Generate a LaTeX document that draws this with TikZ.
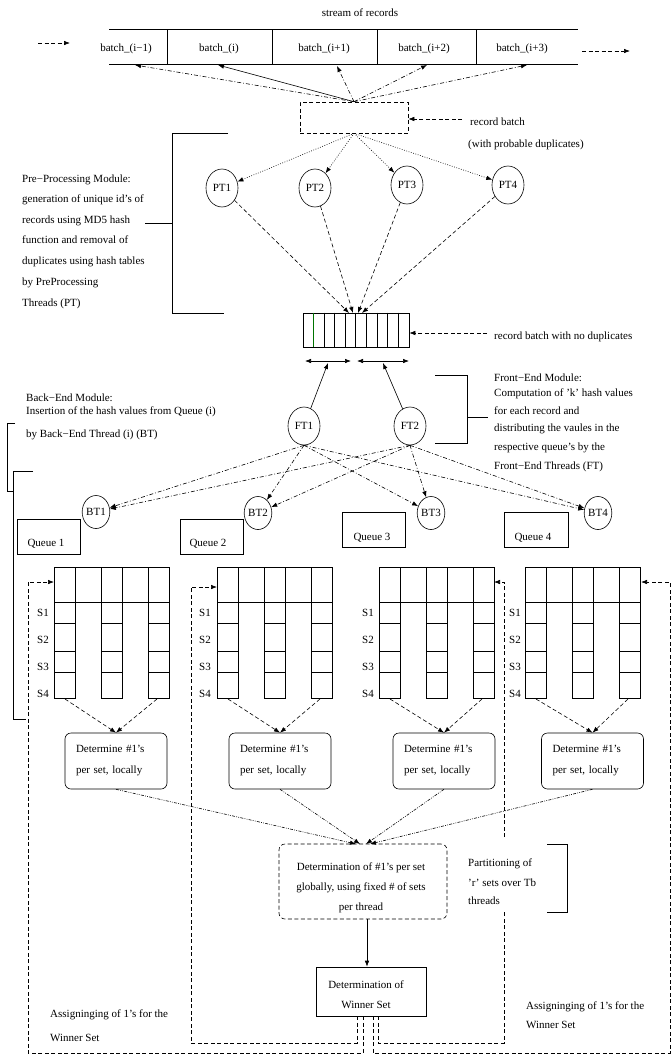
\documentclass[tikz,border=0pt]{standalone}
\usepackage{fontspec}
\setmainfont{Liberation Serif}
\usetikzlibrary{arrows.meta,shapes.geometric,calc}
\begin{document}
\begin{tikzpicture}[x=1pt,y=-1pt,
  every node/.style={font=\fontsize{11}{13}\selectfont, inner sep=0pt},
  ln/.style={line width=0.6pt},
  tip/.style={-{Latex[length=6pt,width=4.5pt]}},
  dtip/.style={{Latex[length=6pt,width=4.5pt]}-{Latex[length=6pt,width=4.5pt]}},
  dsh/.style={dash pattern=on 4pt off 2.5pt},
  dts/.style={dash pattern=on 0.8pt off 1.6pt},
  dda/.style={dash pattern=on 4pt off 2pt on 0.8pt off 2pt},
  ddd/.style={dash pattern=on 3pt off 1.3pt on 0.8pt off 1.3pt on 0.8pt off 1.3pt},
  txt/.style={anchor=base west},
  ctxt/.style={anchor=base},
  thr/.style={ellipse, draw, line width=0.6pt, inner sep=0pt},
  rbox/.style={draw, rounded corners=6pt, line width=0.6pt},
  sq/.style={draw, line width=0.6pt},
]
\useasboundingbox (0,0) rectangle (671,1061);

% ---------- stream of records ----------
\node[ctxt] (title) at (360,16) {stream of records};
\draw[ln] (109,29) -- (578,29) (109,64) -- (578,64);
\foreach \x in {167,272,377,476} \draw[ln] (\x,29) -- (\x,64);
\node[ctxt] (b0) at (126,51) {batch\_(i−1)};
\node[ctxt] (b1) at (219,51) {batch\_(i)};
\node[ctxt] (b2) at (324,51) {batch\_(i+1)};
\node[ctxt] (b3) at (424,51) {batch\_(i+2)};
\node[ctxt] (b4) at (522,51) {batch\_(i+3)};
\coordinate (inL) at (38,43); \coordinate (inR) at (70,43);
\coordinate (outL) at (582,51); \coordinate (outR) at (630,51);
\draw[ln,dsh,tip] (inL) -- (inR);
\draw[ln,dsh,tip] (outL) -- (outR);

% ---------- record batch ----------
\node[sq, dsh, minimum width=108pt, minimum height=31pt] (rb) at (354,117.5) {};
\coordinate (s0) at (135,65); \coordinate (s1) at (218,65);
\coordinate (s2) at (337,66); \coordinate (s3) at (427,65);
\coordinate (s4) at (527,65);
\draw[ln,dda,tip] (rb.north) -- (s0);
\draw[ln,tip] (rb.north) -- (s1);
\draw[ln,dda,tip] (rb.north) -- (s2);
\draw[ln,dda,tip] (rb.north) -- (s3);
\draw[ln,dda,tip] (rb.north) -- (s4);
\node[txt] (rbl) at (470,125) {record batch};
\node[txt] (rbl2) at (468,147) {(with probable duplicates)};
\coordinate (rbs) at (462,119);
\draw[ln,dsh,tip] (rbs) -- (rb.east |- rbs);

% ---------- pre-processing ----------
\node[thr, minimum width=32pt, minimum height=38pt] (PT1) at (222,188) {PT1};
\node[thr, minimum width=32pt, minimum height=38pt] (PT2) at (315,188) {PT2};
\node[thr, minimum width=32pt, minimum height=38pt] (PT3) at (407,185) {PT3};
\node[thr, minimum width=32pt, minimum height=38pt] (PT4) at (508,185) {PT4};
\foreach \i in {1,...,4} \draw[ln,dts,tip] (rb.south) -- (PT\i);

\draw[ln] (228,133) -- (172,133) -- (172,313) -- (224,313);
\draw[ln] (145,223) -- (172,223);
\node[txt] (pp1) at (22,182) {Pre−Processing Module:};
\node[txt] (pp2) at (22,202) {generation of unique id’s of};
\node[txt] (pp3) at (22,223) {records using MD5 hash};
\node[txt] (pp4) at (22,243) {function and removal of};
\node[txt] (pp5) at (22,264) {duplicates using hash tables};
\node[txt] (pp6) at (22,285) {by PreProcessing};
\node[txt] (pp7) at (22,306) {Threads (PT)};

% ---------- record batch with no duplicates ----------
\node[sq, minimum width=106pt, minimum height=34pt] (nd) at (356,330) {};
\foreach \k in {2,...,9}
  \draw[ln] ($(nd.north west)+(\k*10.6,0)$) -- ($(nd.south west)+(\k*10.6,0)$);
\draw[ln, green!45!black] ($(nd.north west)+(10.6,0)$) -- ($(nd.south west)+(10.6,0)$);
\coordinate (nd1) at (349,313); \coordinate (nd2) at (353,313);
\coordinate (nd3) at (358,313); \coordinate (nd4) at (362,313);
\foreach \i in {1,...,4} \draw[ln,dsh,tip] (PT\i) -- (nd\i);
\node[txt] (ndl) at (494,339) {record batch with no duplicates};
\coordinate (nds) at (487,333);
\draw[ln,dsh,tip] (nds) -- (nd.east |- nds);

\coordinate (da1) at (305,361); \coordinate (da2) at (351,361);
\coordinate (da3) at (357,361); \coordinate (da4) at (409,361);
\draw[ln,dtip] (da1) -- (da2);
\draw[ln,dtip] (da3) -- (da4);
\coordinate (m1) at (328,363); \coordinate (m2) at (383,363);

% ---------- front end ----------
\node[thr, minimum width=32pt, minimum height=38pt] (FT1) at (304,426) {FT1};
\node[thr, minimum width=32pt, minimum height=38pt] (FT2) at (410,426) {FT2};
\draw[ln,tip] (FT1) -- (m1);
\draw[ln,tip] (FT2) -- (m2);
\draw[ln] (435,375) -- (467,375) -- (467,443) -- (435,443);
\draw[ln] (467,417) -- (488,417);
\node[txt] (fe1) at (494,381) {Front−End Module:};
\node[txt] (fe2) at (494,396) {Computation of ’k’ hash values};
\node[txt] (fe3) at (494,414) {for each record and};
\node[txt] (fe4) at (494,431) {distributing the vaules in the};
\node[txt] (fe5) at (494,450) {respective queue’s by the};
\node[txt] (fe6) at (494,469) {Front−End Threads (FT)};

% ---------- back end ----------
\node[thr, minimum width=24pt, minimum height=33pt] (BT1) at (96,512) {BT1};
\node[thr, minimum width=24pt, minimum height=33pt] (BT2) at (258,513) {BT2};
\node[thr, minimum width=24pt, minimum height=33pt] (BT3) at (431,513) {BT3};
\node[thr, minimum width=24pt, minimum height=33pt] (BT4) at (598,513) {BT4};
\foreach \f in {FT1,FT2}
  \foreach \b in {BT1,BT2,BT3,BT4}
    \draw[ln,dda,tip] (\f.south) -- (\b);

\node[txt] (be1) at (26,401) {Back−End Module:};
\node[txt] (be2) at (26,414) {Insertion of the hash values from Queue (i)};
\node[txt] (be3) at (26,437) {by Back−End Thread (i) (BT)};
\draw[ln] (15,423) -- (7,423) -- (7,491) -- (13,491);
\draw[ln] (33,471) -- (13,471) -- (13,719) -- (26,719);

% queues
\node[sq, minimum width=63pt, minimum height=35pt] (q1) at (48.5,536.5) {};
\node[ctxt] (q1t) at (46,546) {Queue 1};
\node[sq, minimum width=63pt, minimum height=35pt] (q2) at (211.5,536.5) {};
\node[ctxt] (q2t) at (208,546) {Queue 2};
\node[sq, minimum width=63pt, minimum height=35pt] (q3) at (373.5,529.5) {};
\node[ctxt] (q3t) at (372,540) {Queue 3};
\node[sq, minimum width=64pt, minimum height=35pt] (q4) at (536,529.5) {};
\node[ctxt] (q4t) at (533,540) {Queue 4};

% grids
\foreach \gx/\sl/\n in {54/43/1, 217/205/2, 379/368/3, 525/515/4} {
  \draw[ln] (\gx,567) rectangle (\gx+115,602);
  \foreach \o in {21,47,68,94} \draw[ln] (\gx+\o,567) -- (\gx+\o,602);
  \foreach \a/\b in {0/21, 47/68, 94/115} {
    \draw[ln] (\gx+\a,602) rectangle (\gx+\b,698);
    \foreach \yy in {623,651,672} \draw[ln] (\gx+\a,\yy) -- (\gx+\b,\yy);
  }
  \node (S1g\n) at (\sl,613) {S1};
  \node (S2g\n) at (\sl,640) {S2};
  \node (S3g\n) at (\sl,667) {S3};
  \node (S4g\n) at (\sl,694) {S4};
  \coordinate (gA\n) at (\gx+11,699);
  \coordinate (gB\n) at (\gx+103,699);
}

% determine boxes
\foreach \n/\cx in {1/116, 2/280, 3/444, 4/592.5} {
  \node[rbox, minimum width=102pt, minimum height=56pt, text width=80pt, align=left,
        font=\fontsize{11}{21}\selectfont] (d\n) at (\cx,761) {Determine \#1’s\\per set, locally};
  \draw[ln,dsh,tip] (gA\n) -- (d\n.north);
  \draw[ln,dsh,tip] (gB\n) -- (d\n.north);
}

% global box
\node[sq, dsh, rounded corners=6pt, minimum width=168pt, minimum height=75pt] (gb) at (363,881.5) {};
\node[align=center, font=\fontsize{11}{20}\selectfont] (gbt) at (361,888)
  {Determination of \#1’s per set\\globally, using fixed \# of sets\\per thread};
\coordinate (gt1) at (356,844); \coordinate (gt2) at (360,844);
\coordinate (gt3) at (366,844); \coordinate (gt4) at (370,844);
\foreach \n in {1,...,4} \draw[ln,ddd,tip] (d\n.south) -- (gt\n);

% partitioning
\draw[ln] (547,844) -- (567,844) -- (567,912) -- (547,912);
\node[txt] (pa1) at (468,866) {Partitioning of};
\node[txt] (pa2) at (468,886) {’r’ sets over Tb};
\node[txt] (pa3) at (468,904) {threads};

% winner box
\node[sq, minimum width=110pt, minimum height=49pt] (wb) at (371,991.5) {};
\node[align=center, font=\fontsize{11}{20}\selectfont] (wbt) at (366,995)
  {Determination of\\Winner Set};
\coordinate (ga) at ($(gb.south)+(4,0)$);
\draw[ln,tip] (ga) -- (ga |- wb.north);

% loops
\coordinate (w1) at ($(wb.south)+(-14,0)$);
\coordinate (w2) at ($(wb.south)+(-8,0)$);
\coordinate (w3) at ($(wb.south)+(2,0)$);
\coordinate (w4) at ($(wb.south)+(7,0)$);
\coordinate (h1) at (54,582); \coordinate (h2) at (217,587);
\coordinate (h3) at (494,582); \coordinate (h4) at (641,582);
\coordinate (c1) at (28,1053); \coordinate (c2) at (191,1043);
\coordinate (c3) at (504,1043); \coordinate (c4) at (670,1053);
\coordinate (gapA) at (504,912); \coordinate (gapB) at (504,837);
\draw[ln,dsh,tip] (w2) |- (c1) |- (h1);
\draw[ln,dsh,tip] (w1) |- (c2) |- (h2);
\draw[ln,dsh] (w4) |- (c3) -- (gapA);
\draw[ln,dsh,tip] (gapB) |- (h3);
\draw[ln,dsh,tip] (w3) |- (c4) |- (h4);

\node[txt] (as1) at (50,1017) {Assigninging of 1’s for the};
\node[txt] (as2) at (50,1041) {Winner Set};
\node[txt] (as3) at (526,1009) {Assigninging of 1’s for the};
\node[txt] (as4) at (526,1028) {Winner Set};
\end{tikzpicture}
\end{document}
